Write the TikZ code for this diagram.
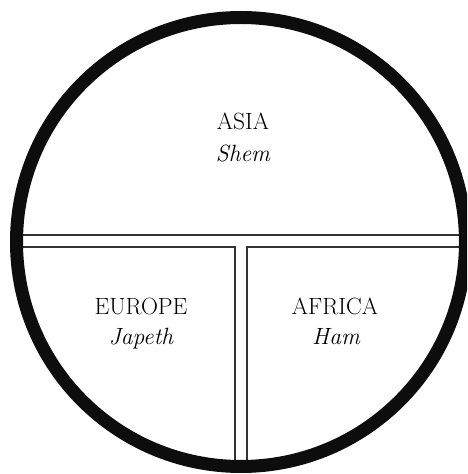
\documentclass[tikz,border=0pt]{standalone}
\usepackage{amsmath}

\begin{document}
\begin{tikzpicture}[x=1pt,y=1pt]
\useasboundingbox (0,0) rectangle (467,474);
\clip (0,0) rectangle (467,474);
\begin{scope}
\clip (241,232) circle (224);
\draw[line width=1.7pt,black!80] (0,239)--(467,239);
\draw[line width=1.7pt,black!80] (0,227)--(235,227)--(235,0);
\draw[line width=1.7pt,black!80] (467,227)--(247,227)--(247,0);
\end{scope}
\draw[line width=13pt,black!95] (241,232) circle (224.5);
\node[anchor=base] (asia) at (243,344) {\fontsize{23.5}{28}\selectfont ASIA};
\node[anchor=base] (shem) at (243,312) {\fontsize{23.5}{28}\selectfont\itshape Shem};
\node[anchor=base] (europe) at (141,159) {\fontsize{23.5}{28}\selectfont EUROPE};
\node[anchor=base] (japeth) at (141,129) {\fontsize{23.5}{28}\selectfont\itshape Japeth};
\node[anchor=base] (africa) at (335,159) {\fontsize{23.5}{28}\selectfont AFRICA};
\node[anchor=base] (ham) at (336,129) {\fontsize{23.5}{28}\selectfont\itshape Ham};
\end{tikzpicture}
\end{document}
